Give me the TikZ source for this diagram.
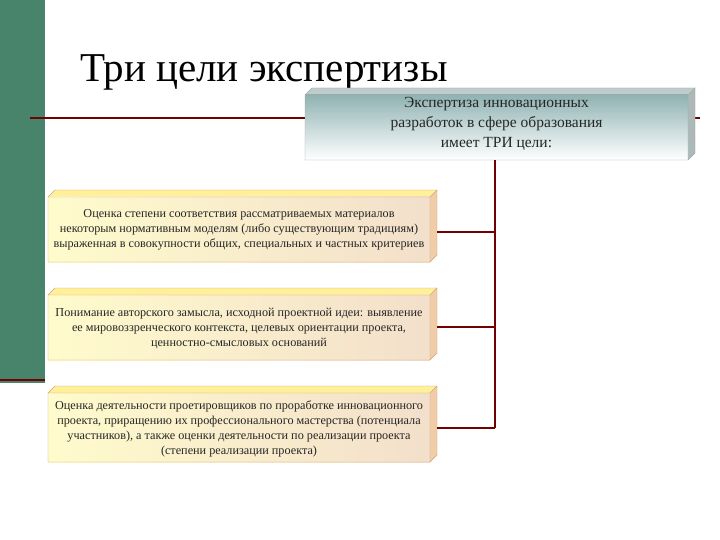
\documentclass[tikz,border=0pt]{standalone}
\usepackage{fontspec}
\setmainfont{Liberation Serif}
\definecolor{barg}{RGB}{72,132,108}
\begin{document}
\begin{tikzpicture}[x=1pt,y=-1pt,
  conn/.style={draw=red!45!black,line width=1.6pt},
  txt/.style={font=\fontsize{12.2}{15}\selectfont,align=center,text=black!85}]
\useasboundingbox (0,0) rectangle (720,540);
\fill[white] (0,0) rectangle (720,540);
\fill[barg] (0,0) rectangle (45,383);
\draw[red!45!black,line width=1.5pt] (0,380) -- (45,380);
\draw[red!45!black,line width=1.5pt] (30,118) -- (700,118);
\node[anchor=base west,inner sep=0pt,font=\fontsize{41}{46}\selectfont] (title) at (80,82) {Три цели экспертизы};
% top box
\def\d{7}
\fill[teal!25!gray!40] (305,95) -- (305+\d,95-\d) -- (688+\d,95-\d) -- (688,95) -- cycle;
\fill[teal!20!gray!55] (688,95) -- (688+\d,95-\d) -- (688+\d,160-\d) -- (688,160) -- cycle;
\shade[top color=teal!45!gray!60,bottom color=white] (305,95) rectangle (688,160);
\draw[gray!70] (305,95) rectangle (688,160) (688,95)--(688+\d,95-\d)--(688+\d,160-\d)--(688,160) (305,95)--(305+\d,95-\d)--(688+\d,95-\d);
\node[txt,font=\fontsize{15.5}{20}\selectfont] (top) at (496.5,124) {Экспертиза инновационных\\разработок в сфере образования\\имеет ТРИ цели:};
\coordinate (tb) at (495,160);
% goal boxes
\foreach \ya/\yb/\n in {197/262/1,295/360/2,393/462/3}{
  \fill[orange!30!yellow!40] (48,\ya) -- (48+\d,\ya-\d) -- (430+\d,\ya-\d) -- (430,\ya) -- cycle;
  \fill[orange!40!brown!40] (430,\ya) -- (430+\d,\ya-\d) -- (430+\d,\yb-\d) -- (430,\yb) -- cycle;
  \shade[left color=orange!15!yellow!20,right color=orange!25!brown!25] (48,\ya) rectangle (430,\yb);
  \draw[orange!50!gray!70] (48,\ya) rectangle (430,\yb) (430,\ya)--(430+\d,\ya-\d)--(430+\d,\yb-\d)--(430,\yb) (48,\ya)--(48+\d,\ya-\d)--(430+\d,\ya-\d);
}
\node[txt] (g1) at (239,230) {Оценка степени соответствия рассматриваемых материалов\\некоторым нормативным моделям (либо существующим традициям)\\выраженная в совокупности общих, специальных и частных критериев};
\node[txt] (g2) at (239,329) {Понимание авторского замысла, исходной проектной идеи: выявление\\ее мировоззренческого контекста, целевых ориентации проекта,\\ценностно-смысловых оснований};
\node[txt] (g3) at (239,429) {Оценка деятельности проетировщиков по проработке инновационного\\проекта, приращению их профессионального мастерства (потенциала\\участников), а также оценки деятельности по реализации проекта\\(степени реализации проекта)};
\coordinate (b1) at (437,232);
\coordinate (b2) at (437,327);
\coordinate (b3) at (437,428);
\coordinate (j1) at (495,232);
\coordinate (j2) at (495,327);
\coordinate (j3) at (495,428);
\draw[conn] (tb) -- (j3);
\draw[conn] (b1) -- (j1);
\draw[conn] (b2) -- (j2);
\draw[conn] (b3) -- (j3);
\end{tikzpicture}
\end{document}
